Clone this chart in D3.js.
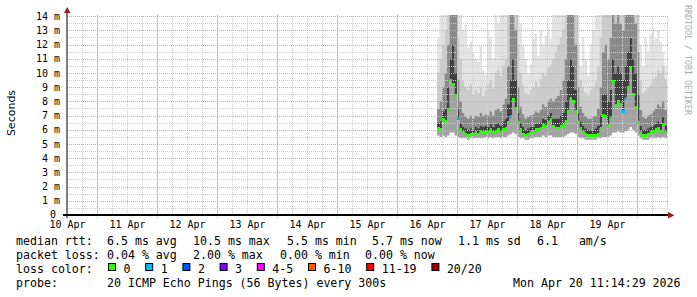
<!DOCTYPE html>
<html>
<head>
<meta charset="utf-8">
<title>Smokeping - median rtt</title>
<script src="https://d3js.org/d3.v7.min.js"></script>
<style>
  body { margin: 0; background: #fff; }
  svg { display: block; background: #fff; }
  .mono { font-family: 'DejaVu Sans Mono', monospace; fill: #000; white-space: pre; }
  .axisY text, .axisX text { font-family: 'DejaVu Sans Mono', monospace; font-size: 10px; fill: #000; }
  .legend text { font-size: 11.6px; }
</style>
</head>
<body>
<div id="viz"></div>
<script>
// hourly samples, first one is 16 Apr 16:00
var firstSample = new Date(2026, 3, 16, 16, 0);

var medianMs = [6.1, 6.0, 6.7, 6.6, 7.4, 9.5, 9.2, 8.4, 6.8, 6.0, 5.8,
  5.7, 5.6, 5.7, 5.7, 5.8, 5.7, 5.9, 5.8, 5.9, 5.8, 6.0, 5.8, 5.9, 6.0, 5.8, 6.0, 6.1,
  6.5, 6.9, 8.1, 7.5, 6.5,
  6.0, 5.7, 5.6, 5.7, 5.8, 5.8, 6.0, 6.0, 6.1, 6.3, 6.2, 6.5, 6.7, 6.2, 6.1, 6.1, 6.2,
  6.3, 6.6, 7.3, 8.2, 8.0, 7.3, 6.5,
  6.1, 5.8, 5.7, 5.6, 5.6, 5.6, 5.6, 5.7,
  6.1, 7.0, 6.9, 6.3, 6.8, 9.4, 7.7, 8.0, 7.8, 7.3, 8.2, 9.0, 10.4, 8.5, 7.6, 6.5,
  5.8, 5.6, 5.6, 5.7, 5.8, 5.9, 6.0, 6.1, 5.9, 6.4, 5.8];

var lossCount = [0, 0, 0, 0, 0, 0, 0, 0, 1, 0, 0,
  0, 0, 0, 0, 0, 0, 0, 0, 0, 0, 0, 0, 0, 0, 0, 0, 0,
  0, 1, 0, 0, 0,
  0, 0, 0, 0, 0, 0, 0, 0, 0, 0, 0, 0, 0, 0, 0, 0, 0,
  0, 0, 0, 0, 0, 0, 0,
  0, 0, 0, 0, 0, 0, 0, 0,
  0, 0, 0, 0, 0, 0, 0, 0, 0, 1, 1, 0, 0, 0, 0, 0,
  0, 0, 0, 0, 0, 0, 0, 0, 0, 0, 0];

// smoke: spread of the 20 pings per sample
var minMs = [5.6, 5.5, 5.6, 5.5, 5.6, 5.8, 5.8, 5.6, 5.5, 5.4, 5.4,
  5.4, 5.3, 5.4, 5.4, 5.4, 5.4, 5.4, 5.4, 5.5, 5.4, 5.5, 5.4, 5.5, 5.5, 5.4, 5.5, 5.5,
  5.6, 5.7, 5.8, 5.7, 5.5,
  5.4, 5.4, 5.3, 5.3, 5.4, 5.4, 5.5, 5.5, 5.5, 5.6, 5.5, 5.6, 5.6, 5.5, 5.5, 5.5, 5.5,
  5.5, 5.6, 5.7, 5.8, 5.8, 5.7, 5.5,
  5.4, 5.4, 5.3, 5.3, 5.3, 5.3, 5.3, 5.4,
  5.4, 5.5, 5.5, 5.5, 5.6, 5.8, 5.8, 5.9, 5.8, 5.8, 5.9, 6.0, 6.2, 6.0, 5.8, 5.6,
  5.4, 5.3, 5.3, 5.3, 5.4, 5.4, 5.4, 5.5, 5.4, 5.5, 5.4];

var p60Ms = [6.5, 6.6, 7.3, 7.5, 9.0, 11.0, 12.0, 10.0, 7.5, 6.5, 6.2,
  6.1, 6.0, 6.1, 6.0, 6.2, 6.1, 6.3, 6.2, 6.3, 6.2, 6.4, 6.2, 6.4, 6.5, 6.3, 6.6, 6.8,
  7.8, 9.5, 11.0, 9.5, 7.2,
  6.5, 6.2, 6.0, 6.1, 6.2, 6.2, 6.4, 6.4, 6.5, 6.8, 6.7, 7.0, 7.2, 6.8, 6.8, 6.8, 7.0,
  7.2, 8.0, 9.5, 11.0, 10.5, 8.8, 7.2,
  6.6, 6.3, 6.1, 6.0, 6.0, 6.0, 6.1, 6.3,
  7.0, 8.5, 8.5, 8.0, 8.8, 11.0, 10.0, 10.5, 10.0, 9.5, 10.5, 11.5, 12.5, 11.0, 10.0, 8.5,
  6.3, 6.0, 6.0, 6.1, 6.2, 6.3, 6.4, 6.6, 6.4, 6.9, 6.3];

var p75Ms = [7.5, 8.0, 9.0, 10.0, 12.0, 14.1, 14.1, 14.1, 9.5, 8.0, 7.2,
  6.9, 6.8, 7.0, 6.8, 7.0, 6.9, 7.2, 7.0, 7.1, 7.0, 7.3, 7.0, 7.4, 7.5, 7.3, 7.8, 8.2,
  10.5, 14.1, 14.1, 13.0, 9.0,
  7.6, 7.1, 6.8, 6.9, 7.0, 7.1, 7.3, 7.2, 7.4, 7.8, 7.6, 8.0, 8.2, 8.0, 8.2, 8.4, 8.8,
  9.5, 11.0, 14.1, 14.1, 14.1, 12.0, 9.0,
  7.6, 7.2, 6.9, 6.8, 6.8, 6.9, 7.0, 7.5,
  9.0, 11.5, 12.0, 11.0, 12.5, 14.1, 13.5, 14.1, 13.5, 13.0, 14.1, 14.1, 14.1, 14.1, 13.5, 11.5,
  7.4, 6.9, 6.8, 7.0, 7.1, 7.3, 7.5, 7.8, 7.6, 8.0, 7.4];

var p90Ms = [10.0, 11.0, 12.0, 13.0, 14.1, 14.1, 14.1, 14.1, 12.5, 11.0, 9.5,
  9.0, 8.8, 9.2, 8.5, 8.8, 8.6, 9.0, 8.4, 8.8, 9.2, 9.5, 8.9, 10.0, 10.2, 9.8, 10.5, 11.0,
  14.1, 14.1, 14.1, 14.1, 12.0,
  10.0, 9.2, 8.6, 8.5, 8.8, 9.0, 9.4, 9.0, 9.6, 10.0, 9.8, 10.4, 10.6, 11.0, 11.5, 12.0, 12.5,
  13.0, 14.1, 14.1, 14.1, 14.1, 14.1, 12.0,
  9.5, 9.0, 8.6, 8.4, 8.8, 9.0, 9.4, 10.5,
  12.5, 14.1, 14.1, 14.1, 14.1, 14.1, 14.1, 14.1, 14.1, 14.1, 14.1, 14.1, 14.1, 14.1, 14.1, 14.1,
  9.5, 8.6, 8.8, 9.0, 9.2, 9.6, 9.8, 10.2, 10.0, 10.5, 9.6];

var maxMs = [12.5, 14.1, 14.1, 14.1, 14.1, 14.1, 14.1, 14.1, 14.1, 14.1, 13.0,
  13.4, 11.8, 12.2, 11.5, 11.0, 10.8, 11.9, 10.2, 9.9, 13.0, 12.5, 11.0, 14.1, 13.5, 14.1, 14.1, 14.1,
  14.1, 14.1, 14.1, 14.1, 14.1,
  13.5, 12.0, 11.0, 10.0, 10.6, 12.4, 12.8, 11.2, 13.0, 12.0, 12.6, 13.2, 12.4, 14.1, 14.1, 14.1, 14.1,
  14.1, 14.1, 14.1, 14.1, 14.1, 14.1, 14.1,
  10.5, 12.5, 11.0, 9.8, 12.0, 13.0, 14.1, 14.1,
  14.1, 14.1, 14.1, 14.1, 14.1, 14.1, 14.1, 14.1, 14.1, 14.1, 14.1, 14.1, 14.1, 14.1, 14.1, 14.1,
  12.0, 10.5, 12.5, 11.5, 12.8, 13.2, 12.4, 13.0, 12.2, 11.5, 10.5];

var yTicks = [0, 1, 2, 3, 4, 5, 6, 7, 8, 9, 10, 11, 12, 13, 14];
var lossLabels = ['0', '1', '2', '3', '4-5', '6-10', '11-19', '20/20'];
var lossColors = ['#26ff00', '#00b8ff', '#0059ff', '#7e00ff', '#ff00ff', '#ff5500', '#ff0000', '#a10000'];

var rttLine = ['6.5 ms avg', '10.5 ms max', '5.5 ms min', '5.7 ms now', '1.1 ms sd', '6.1   am/s'];
var lossLine = ['0.04 % avg', '2.00 % max', '0.00 % min', '0.00 % now'];

var W = 697, H = 297;
var start = new Date(2026, 3, 10, 12), end = new Date(2026, 3, 20, 12);

var x = d3.scaleTime().domain([start, end]).range([67, 667]);
var y = d3.scaleLinear().domain([0, 14.08]).range([215, 15]).clamp(true);
var lossColor = d3.scaleThreshold().domain([1, 2, 3, 4, 6, 11, 20]).range(lossColors);

// one record per sample, plus a closing one so the last step has width
var rows = medianMs.map(function(m, i) {
  return { t: d3.timeHour.offset(firstSample, i), med: m, loss: lossCount[i],
           min: minMs[i], p60: p60Ms[i], p75: p75Ms[i], p90: p90Ms[i], max: maxMs[i] };
});
var last = rows[rows.length - 1];
var steps = rows.concat([Object.assign({}, last, { t: d3.timeHour.offset(last.t, 1) })]);

var svg = d3.select('#viz').append('svg')
    .attr('width', W)
    .attr('height', H);

// smoke bands, outer to inner
var bands = [
  ['p90', 'max', '#e3e3e3'],
  ['p75', 'p90', '#cbcbcb'],
  ['p60', 'p75', '#8a8a8a'],
  ['min', 'med', '#a2a2a2'],
  ['med', 'p60', '#414141']
];
var smoke = svg.append('g');
bands.forEach(function(b) {
  smoke.append('path')
      .datum(steps)
      .attr('fill', b[2])
      .attr('d', d3.area()
        .curve(d3.curveStepAfter)
        .x(function(d) { return x(d.t); })
        .y0(function(d) { return y(d[b[0]]); })
        .y1(function(d) { return y(d[b[1]]); }));
});

// grid on top of the smoke
var grid = svg.append('g').attr('shape-rendering', 'crispEdges');
var halfSteps = d3.range(1, 29).map(function(i) { return i / 2; });
grid.selectAll('line.hmin')
    .data(halfSteps.filter(function(v) { return v % 1 !== 0; }))
  .enter().append('line')
    .attr('x1', 67).attr('x2', 668)
    .attr('y1', function(d) { return Math.round(y(d)) + 0.5; })
    .attr('y2', function(d) { return Math.round(y(d)) + 0.5; })
    .attr('stroke', '#cfcfcf').attr('stroke-dasharray', '1,1');
grid.selectAll('line.vmin')
    .data(d3.timeHour.every(6).range(d3.timeHour.offset(start, 1), d3.timeHour.offset(end, 1)))
  .enter().append('line')
    .attr('x1', function(d) { return Math.round(x(d)) + 0.5; })
    .attr('x2', function(d) { return Math.round(x(d)) + 0.5; })
    .attr('y1', 215).attr('y2', 15)
    .attr('stroke', '#cfcfcf').attr('stroke-dasharray', '1,1');
grid.selectAll('line.hmaj')
    .data(yTicks.slice(1))
  .enter().append('line')
    .attr('x1', 67).attr('x2', 668)
    .attr('y1', function(d) { return Math.round(y(d)) + 0.5; })
    .attr('y2', function(d) { return Math.round(y(d)) + 0.5; })
    .attr('stroke', '#eb9a9a').attr('stroke-dasharray', '1,1');
grid.selectAll('line.vmaj')
    .data(d3.timeDay.range(start, end))
  .enter().append('line')
    .attr('x1', function(d) { return Math.round(x(d)) + 0.5; })
    .attr('x2', function(d) { return Math.round(x(d)) + 0.5; })
    .attr('y1', 218).attr('y2', 15)
    .attr('stroke', '#eb9a9a').attr('stroke-dasharray', '1,1');

// median, coloured by packet loss
svg.append('g')
    .attr('shape-rendering', 'crispEdges')
  .selectAll('rect')
    .data(rows)
  .enter().append('rect')
    .attr('x', function(d) { return x(d.t); })
    .attr('width', function(d) { return x(d3.timeHour.offset(d.t, 1)) - x(d.t); })
    .attr('y', function(d) { return y(d.med) - 1.5; })
    .attr('height', 3)
    .attr('fill', function(d) { return lossColor(d.loss); });

// axes
var yAxis = svg.append('g')
    .attr('class', 'axisY')
    .attr('transform', 'translate(67,0)')
    .call(d3.axisLeft(y).tickValues(yTicks).tickSize(0).tickPadding(7)
      .tickFormat(function(d) { return d === 0 ? '0' : d + ' m'; }));
yAxis.select('.domain').remove();
yAxis.selectAll('text').filter(function(d) { return d === 0; }).attr('x', -11).attr('dy', '0.2em');

var noons = d3.timeDay.range(d3.timeDay.floor(start), d3.timeDay.floor(end))
    .map(function(d) { return d3.timeHour.offset(d, 12); });
var xAxis = svg.append('g')
    .attr('class', 'axisX')
    .attr('transform', 'translate(0,215)')
    .call(d3.axisBottom(x).tickValues(noons).tickSize(0).tickPadding(6)
      .tickFormat(d3.timeFormat('%d %b')));
xAxis.select('.domain').remove();

svg.append('line')
    .attr('x1', 67).attr('x2', 67).attr('y1', 218).attr('y2', 10)
    .attr('stroke', '#000').attr('stroke-width', 1);
svg.append('line')
    .attr('x1', 63).attr('x2', 670).attr('y1', 215).attr('y2', 215)
    .attr('stroke', '#000').attr('stroke-width', 2);
svg.append('path')
    .attr('d', 'M64,13L70.5,13L67.2,7Z')
    .attr('fill', '#9b1c1c');
svg.append('path')
    .attr('d', 'M668,212L668,218.5L674.5,215.2Z')
    .attr('fill', '#9b1c1c');

// axis title and watermark
svg.append('text')
    .attr('transform', 'translate(15,113) rotate(-90)')
    .attr('text-anchor', 'middle')
    .style('font-family', "'DejaVu Sans', sans-serif")
    .style('font-size', '11px')
    .text('Seconds');
svg.append('text')
    .attr('class', 'mono')
    .attr('transform', 'translate(685,5) rotate(90)')
    .style('font-size', '8.3px')
    .style('fill', '#ababab')
    .text('RRDTOOL / TOBI OETIKER');

// legend
var legend = svg.append('g').attr('class', 'legend');
function put(str, lx, ly) {
  legend.append('text')
      .attr('class', 'mono')
      .attr('xml:space', 'preserve')
      .attr('x', lx).attr('y', ly)
      .text(str);
}
var rttX = [107, 193, 287, 372, 458, 537];
var lossX = [107, 193, 280, 365];
put('median rtt:', 16, 245);
rttLine.forEach(function(s, i) { put(s, rttX[i], 245); });
put('packet loss:', 16, 259);
lossLine.forEach(function(s, i) { put(s, lossX[i], 259); });
put('loss color:', 16, 273);
var sx = 108.5;
lossLabels.forEach(function(lab, i) {
  legend.append('rect')
      .attr('x', sx).attr('y', 263.5).attr('width', 7).attr('height', 7)
      .attr('fill', lossColors[i]).attr('stroke', '#000').attr('stroke-width', 1);
  put(lab, sx + 15, 273);
  sx += 30.2 + 7 * lab.length;
});
put('probe:', 16, 287);
put('20 ICMP Echo Pings (56 Bytes) every 300s', 107, 287);
put('Mon Apr 20 11:14:29 2026', 513, 287);
</script>
</body>
</html>
